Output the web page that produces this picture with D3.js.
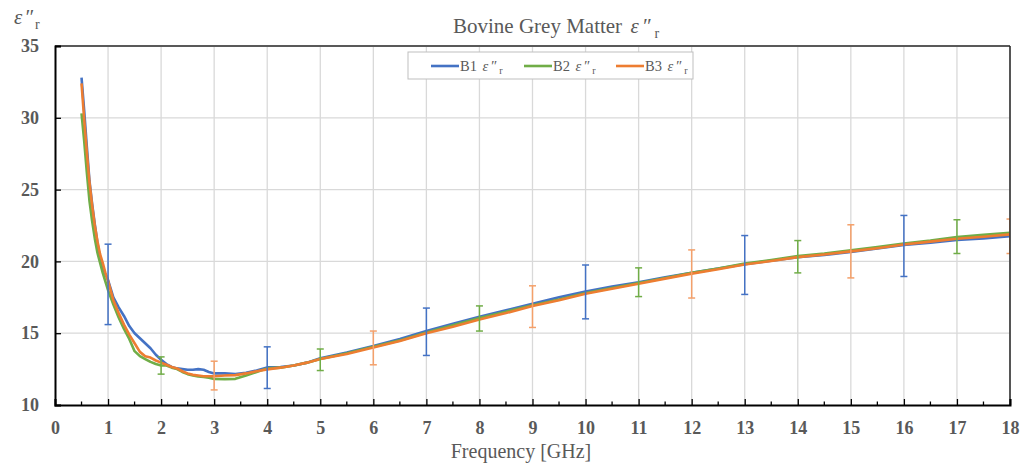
<!DOCTYPE html>
<html><head><meta charset="utf-8">
<script src="https://cdn.jsdelivr.net/npm/d3@7"></script>
<style>body{margin:0;background:#fff}svg{display:block}</style>
</head><body>
<svg id="chart" width="1035" height="466"></svg>
<script>
const freqStart = [0.5,0.55,0.6,0.65,0.7,0.75,0.8,0.85,0.9,0.95,1.0,1.1,1.2,1.3,1.4,1.5,1.6,1.7,1.8,1.9,2.0,2.1,2.2,2.3,2.4,2.5,2.6,2.7,2.8,2.9,3.0,3.2,3.4,3.6,3.8,4.0,4.25,4.5,4.75,5.0];
const freqRest = [5.5,6,6.5,7,7.5,8,8.5,9,9.5,10,10.5,11,11.5,12,12.5,13,13.5,14,14.5,15,15.5,16,16.5,17,17.5,18];
const frequency = freqStart.concat(freqRest);

const b1Values = [32.8,30.5,28.0,25.6,24.0,22.6,21.3,20.2,19.6,19.1,18.7,17.5,16.8,16.2,15.5,15.0,14.65,14.3,13.95,13.5,13.15,12.85,12.65,12.55,12.5,12.45,12.45,12.5,12.45,12.3,12.2,12.2,12.15,12.25,12.4,12.62,12.65,12.75,12.95,13.25,
  13.65,14.1,14.6,15.15,15.65,16.15,16.6,17.05,17.5,17.9,18.25,18.55,18.9,19.2,19.5,19.8,20.05,20.3,20.45,20.65,20.9,21.15,21.3,21.5,21.6,21.75];
const b2Values = [30.3,28.4,26.2,24.2,22.8,21.6,20.6,19.9,19.2,18.6,18.0,17.0,16.1,15.3,14.6,13.75,13.4,13.2,13.0,12.85,12.75,12.75,12.6,12.5,12.3,12.15,12.05,11.98,11.95,11.9,11.82,11.8,11.82,12.05,12.3,12.55,12.6,12.75,12.95,13.2,
  13.6,14.05,14.5,15.05,15.55,16.05,16.5,16.95,17.35,17.8,18.15,18.5,18.85,19.2,19.5,19.85,20.1,20.38,20.55,20.78,21.0,21.25,21.45,21.7,21.85,22.0];
const b3Values = [32.4,29.9,27.6,25.5,23.9,22.5,21.4,20.5,19.9,19.2,18.65,17.3,16.4,15.6,14.9,14.3,13.7,13.4,13.3,13.1,12.95,12.8,12.65,12.55,12.35,12.2,12.1,12.05,12.0,12.0,12.0,12.05,12.08,12.2,12.35,12.48,12.6,12.75,12.95,13.2,
  13.55,14.0,14.45,15.0,15.45,15.95,16.4,16.9,17.3,17.75,18.1,18.45,18.8,19.15,19.45,19.78,20.03,20.3,20.48,20.7,20.92,21.18,21.38,21.58,21.72,21.88];

const b1ErrX = [1,4,7,10,13,16], b1ErrLo = [15.6,11.15,13.45,16.0,17.7,18.95], b1ErrHi = [21.2,14.05,16.75,19.75,21.8,23.2];
const b2ErrX = [2,5,8,11,14,17], b2ErrLo = [12.15,12.4,15.15,17.55,19.2,20.55], b2ErrHi = [13.35,13.9,16.9,19.55,21.45,22.9];
const b3ErrX = [3,6,9,12,15,18], b3ErrLo = [11.05,12.8,15.4,17.45,18.85,20.55], b3ErrHi = [13.05,15.15,18.3,20.8,22.55,22.95];

const xTicks = d3.range(0, 19, 1);
const yTicks = [10,15,20,25,30,35];
const seriesNames = ["B1", "B2", "B3"];
const seriesColors = ["#4472C4", "#70AD47", "#ED7D31"];
const errColors = ["#4472C4", "#70AD47", "#F4A06A"];

const svg = d3.select("#chart");
const L = 55, R = 1010, T = 46, B = 405;
const x = d3.scaleLinear().domain([0,18]).range([L,R]);
const y = d3.scaleLinear().domain([10,35]).range([B,T]);
const serif = "'Liberation Serif','Times New Roman',serif";
const txt = "#595959";

// grid
svg.append("g").selectAll("line").data(xTicks.slice(1)).join("line")
  .attr("x1", d=>x(d)).attr("x2", d=>x(d)).attr("y1", T).attr("y2", B)
  .attr("stroke", "#d9d9d9").attr("stroke-width", 1.3);
svg.append("g").selectAll("line").data(yTicks.slice(1)).join("line")
  .attr("x1", L).attr("x2", R).attr("y1", d=>y(d)).attr("y2", d=>y(d))
  .attr("stroke", "#d9d9d9").attr("stroke-width", 1.3);

// clip
svg.append("clipPath").attr("id","clip").append("rect")
  .attr("x", L).attr("y", T).attr("width", R-L).attr("height", B-T);

const plot = svg.append("g").attr("clip-path", "url(#clip)");
const line = d3.line().x((d,i)=>x(frequency[i])).y(d=>y(d));
const allValues = [b1Values, b2Values, b3Values];
const errs = [[b1ErrX,b1ErrLo,b1ErrHi],[b2ErrX,b2ErrLo,b2ErrHi],[b3ErrX,b3ErrLo,b3ErrHi]];

allValues.forEach((vals, k) => {
  plot.append("path").datum(vals).attr("d", line)
    .attr("fill","none").attr("stroke", seriesColors[k]).attr("stroke-width", 2.6)
    .attr("stroke-linejoin","round");
});
errs.forEach((e, k) => {
  const g = plot.append("g").attr("stroke", errColors[k]).attr("stroke-width", 1.5);
  e[0].forEach((xv, i) => {
    g.append("line").attr("x1", x(xv)).attr("x2", x(xv)).attr("y1", y(e[1][i])).attr("y2", y(e[2][i]));
    g.append("line").attr("x1", x(xv)-3.5).attr("x2", x(xv)+3.5).attr("y1", y(e[1][i])).attr("y2", y(e[1][i]));
    g.append("line").attr("x1", x(xv)-3.5).attr("x2", x(xv)+3.5).attr("y1", y(e[2][i])).attr("y2", y(e[2][i]));
  });
});

// frame
svg.append("line").attr("x1", L).attr("x2", R).attr("y1", T).attr("y2", T).attr("stroke", "#595959").attr("stroke-width", 2);
svg.append("line").attr("x1", R).attr("x2", R).attr("y1", T).attr("y2", B).attr("stroke", "#262626").attr("stroke-width", 1.5);

// axes
const xAxis = d3.axisBottom(x).tickValues(xTicks).tickSize(-6).tickPadding(16).tickFormat(d3.format("d"));
const gx = svg.append("g").attr("transform", `translate(0,${B})`).call(xAxis);
gx.select(".domain").attr("stroke", "#000").attr("stroke-width", 2);
gx.selectAll(".tick line").attr("stroke", "#000").attr("stroke-width", 1.3);
gx.selectAll("text").attr("font-family", serif).attr("font-size", 18).attr("font-weight", "bold").attr("fill", txt);
svg.append("g").selectAll("line").data(d3.range(0.5, 18, 1)).join("line")
  .attr("x1", d=>x(d)).attr("x2", d=>x(d)).attr("y1", B).attr("y2", B-3.5)
  .attr("stroke", "#000").attr("stroke-width", 1.3);

const yAxis = d3.axisLeft(y).tickValues(yTicks).tickSize(-6).tickPadding(16);
const gy = svg.append("g").attr("transform", `translate(${L},0)`).call(yAxis);
gy.select(".domain").attr("stroke", "#000").attr("stroke-width", 2);
gy.selectAll(".tick line").attr("stroke", "#000").attr("stroke-width", 1.3);
gy.selectAll("text").attr("font-family", serif).attr("font-size", 18).attr("font-weight", "bold").attr("fill", txt);

// title
const title = svg.append("text").attr("x", 453).attr("y", 33).attr("text-anchor", "start")
  .attr("font-family", serif).attr("font-size", 21).attr("fill", txt);
title.append("tspan").text("Bovine Grey Matter ");
title.append("tspan").attr("font-style", "italic").attr("dx", 3).attr("letter-spacing", 3).text("ε″");
title.append("tspan").attr("font-size", 14).attr("dy", 5).attr("dx", 1).text("r");

// y label
const yl = svg.append("text").attr("x", 14).attr("y", 24).attr("font-family", serif).attr("font-size", 21).attr("fill", txt);
yl.append("tspan").attr("font-style","italic").attr("letter-spacing", 2).text("ε″");
yl.append("tspan").attr("font-size", 14).attr("dy", 5).text("r");

// x label
svg.append("text").attr("x", 521).attr("y", 458).attr("text-anchor","middle")
  .attr("font-family", serif).attr("font-size", 20).attr("fill", txt).text("Frequency [GHz]");

// legend
svg.append("rect").attr("x", 408).attr("y", 52).attr("width", 285).attr("height", 27)
  .attr("fill", "#fff").attr("stroke", "#bfbfbf").attr("stroke-width", 1);
const legX = [431, 524, 616];
seriesNames.forEach((n, k) => {
  svg.append("line").attr("x1", legX[k]).attr("x2", legX[k]+28).attr("y1", 66).attr("y2", 66)
    .attr("stroke", seriesColors[k]).attr("stroke-width", 2.6);
  const t = svg.append("text").attr("x", legX[k]+29).attr("y", 70.5)
    .attr("font-family", serif).attr("font-size", 14.5).attr("fill", txt);
  t.append("tspan").text(n + " ");
  t.append("tspan").attr("font-style","italic").attr("dx", 2).attr("letter-spacing", 2).text("ε″");
  t.append("tspan").attr("font-size", 10).attr("dy", 3).attr("dx", 1).text("r");
});
</script>
</body></html>
